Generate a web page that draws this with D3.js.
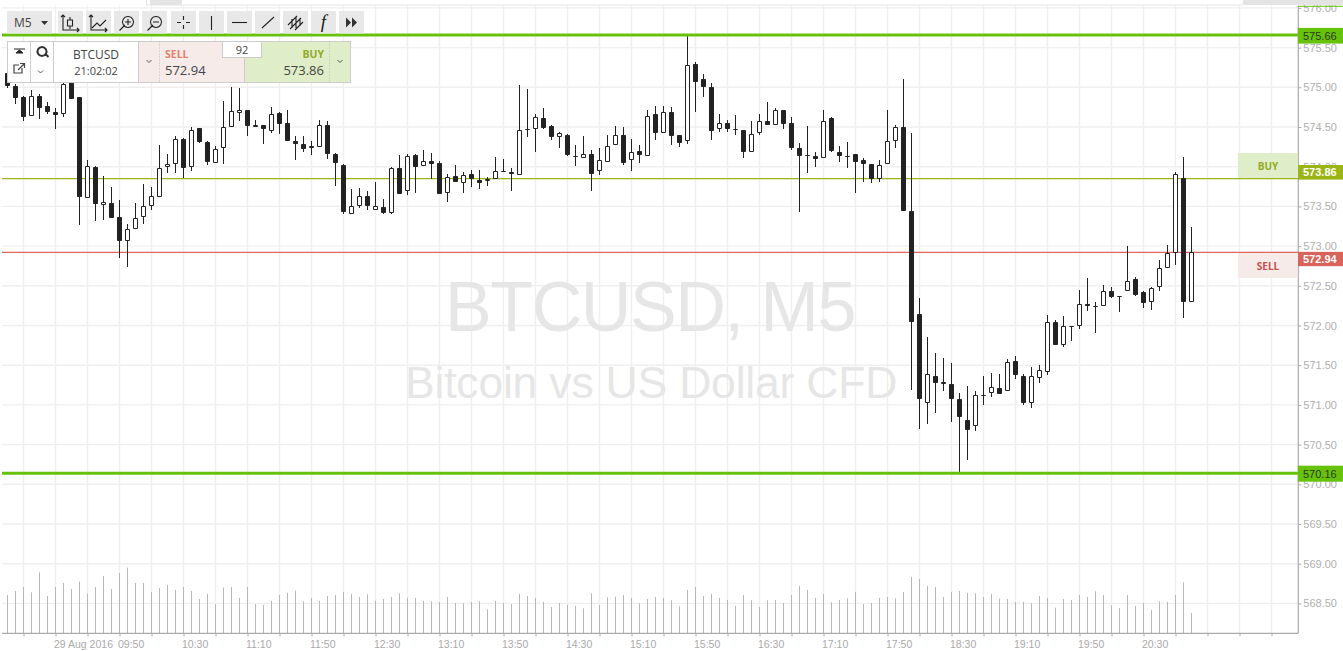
<!DOCTYPE html>
<html><head><meta charset="utf-8">
<script src="https://cdn.jsdelivr.net/npm/d3@7/dist/d3.min.js"></script>
<style>html,body{margin:0;padding:0;background:#fff;overflow:hidden}svg{display:block}</style>
</head><body><svg id="c" width="1343" height="651"></svg>
<script>
const openP=[575.18,575.02,574.88,574.64,574.89,574.76,574.69,574.67,575.09,574.88,
573.61,574.00,573.52,573.54,573.37,573.07,573.22,573.37,573.50,573.62,
573.99,574.03,574.35,573.99,574.49,574.31,574.05,574.24,574.50,574.68,
574.71,574.50,574.52,574.45,574.68,574.55,574.32,574.29,574.23,574.25,
574.53,574.16,574.02,573.41,573.51,573.63,573.46,573.49,573.42,573.98,
573.70,574.15,574.01,574.07,574.05,573.67,573.88,573.80,573.91,573.83,
573.82,573.85,573.94,573.93,573.90,574.47,574.48,574.61,574.51,574.38,
574.40,574.14,574.11,574.16,573.94,574.06,574.27,574.40,574.08,574.20,
574.14,574.66,574.42,574.69,574.40,574.32,575.29,575.10,575.00,574.47,
574.55,574.47,574.46,574.18,574.43,574.57,574.52,574.71,574.55,574.23,
574.15,574.14,574.11,574.61,574.19,574.14,574.16,574.08,574.03,573.84,
574.03,574.32,574.50,573.44,572.14,571.03,571.36,571.26,571.26,571.07,
570.81,570.73,571.13,571.15,571.21,571.17,571.55,571.36,571.02,571.34,
571.42,572.05,571.76,572.00,572.00,572.27,572.24,572.24,572.44,572.37,
572.43,572.58,572.42,572.29,572.48,572.73,572.91,573.86,572.30];
const highP=[575.22,575.04,574.89,574.97,574.91,574.81,574.74,575.05,575.12,574.88,
574.08,574.01,573.88,573.74,573.58,573.28,573.54,573.78,573.74,574.27,
574.16,574.39,574.36,574.50,574.49,574.32,574.26,574.83,575.00,574.99,
574.72,574.59,574.52,574.75,574.69,574.71,574.39,574.39,574.32,574.59,
574.57,574.17,574.03,573.72,573.73,573.69,573.81,573.59,573.99,574.15,
574.16,574.16,574.21,574.17,574.07,573.91,574.02,573.93,573.96,573.96,
573.87,574.12,574.10,573.98,575.03,574.98,574.66,574.74,574.52,574.44,
574.41,574.27,574.39,574.21,574.24,574.40,574.51,574.50,574.35,574.27,
574.71,574.76,574.76,574.75,574.40,575.64,575.32,575.17,575.06,574.66,
574.59,574.65,574.46,574.58,574.66,574.81,574.74,574.72,574.62,574.30,
574.51,574.19,574.71,574.62,574.26,574.31,574.16,574.11,574.04,574.08,
574.71,574.53,575.10,574.42,572.35,571.86,571.65,571.59,571.53,571.15,
571.24,571.17,571.36,571.40,571.39,571.58,571.62,571.39,571.48,571.50,
572.13,572.07,572.12,572.00,572.45,572.60,572.29,572.51,572.48,572.37,
573.00,572.61,572.43,572.49,572.83,573.01,573.93,574.12,573.24];
const lowP=[574.99,574.79,574.58,574.64,574.60,574.67,574.47,574.63,574.85,573.26,
573.61,573.32,573.33,573.35,572.85,572.74,573.21,573.28,573.46,573.62,
573.92,573.92,573.86,573.94,574.30,574.02,574.05,574.03,574.50,574.57,
574.39,574.50,574.29,574.43,574.41,574.32,574.08,574.19,574.15,574.25,
574.10,573.76,573.41,573.40,573.48,573.45,573.45,573.40,573.40,573.65,
573.64,573.67,574.01,573.85,573.65,573.56,573.81,573.67,573.74,573.72,
573.76,573.85,573.93,573.70,573.89,574.38,574.19,574.48,574.33,574.23,
574.13,574.01,574.11,573.69,573.89,574.06,574.27,574.02,573.95,574.05,
574.14,574.33,574.42,574.27,574.25,574.28,574.69,574.88,574.33,574.44,
574.44,574.40,574.11,574.18,574.40,574.53,574.52,574.47,574.21,573.43,
573.92,574.00,574.11,574.19,574.06,573.98,573.67,573.81,573.80,573.81,
574.03,574.24,573.44,571.19,570.70,570.76,570.90,571.17,570.78,570.14,
570.31,570.67,571.00,571.10,571.14,571.17,571.33,571.00,570.96,571.27,
571.38,571.75,571.73,571.80,571.96,572.18,571.90,572.24,572.35,572.17,
572.43,572.37,572.22,572.20,572.44,572.72,572.76,572.09,572.30];
const closeP=[575.02,574.87,574.63,574.89,574.74,574.69,574.65,575.04,574.85,573.62,
574.01,573.53,573.56,573.35,573.06,573.21,573.36,573.50,573.63,573.98,
574.03,574.35,573.98,574.46,574.31,574.06,574.22,574.50,574.70,574.72,
574.51,574.53,574.47,574.66,574.54,574.32,574.29,574.22,574.26,574.53,
574.16,574.05,573.43,573.51,573.63,573.51,573.50,573.42,573.98,573.66,
574.13,574.00,574.07,574.04,573.65,573.87,573.81,573.89,573.84,573.80,
573.85,573.95,573.94,573.91,574.46,574.47,574.62,574.49,574.38,574.42,
574.15,574.13,574.16,573.91,574.09,574.26,574.40,574.05,574.19,574.15,
574.64,574.42,574.69,574.39,574.30,575.28,575.07,575.01,574.45,574.55,
574.48,574.47,574.18,574.41,574.57,574.53,574.71,574.54,574.24,574.14,
574.14,574.10,574.57,574.20,574.14,574.13,574.06,574.03,573.85,574.02,
574.32,574.50,573.44,572.04,571.07,571.39,571.27,571.29,571.07,570.85,
570.69,571.12,571.12,571.22,571.14,571.54,571.38,571.03,571.36,571.44,
572.04,571.76,571.99,571.99,572.27,572.24,572.24,572.44,572.36,572.37,
572.56,572.38,572.28,572.47,572.73,572.91,573.91,572.29,572.92];
const volumes=[115,127,139,123,183,112,139,151,133,155,
119,139,172,133,181,197,151,151,124,136,
145,130,139,127,103,118,88,137,139,106,
139,88,85,97,115,121,128,96,106,97,
112,115,124,118,109,117,97,103,109,120,
107,106,97,96,94,109,91,90,94,96,
72,97,91,88,118,112,106,94,79,91,
86,82,75,120,85,108,110,115,106,90,
103,109,106,99,81,130,139,112,118,106,
100,82,115,99,79,99,100,91,115,142,
130,106,118,93,100,105,124,88,91,106,
109,105,124,169,163,142,139,109,124,127,
121,120,109,118,104,103,94,94,90,112,
106,77,103,100,115,109,126,115,84,76,
115,82,91,70,96,94,115,153,61];
const priceTicks=[568.5,569,569.5,570,570.5,571,571.5,572,572.5,573,573.5,574,574.5,575,575.5,576];
const dateLabel="29 Aug 2016";
const levelValues=[575.66,570.14];
const levelLabels=["575.66","570.16"];
const buyLine=573.85, sellLine=572.92;
const buyText="573.86", sellText="572.94";
const symbol="BTCUSD", period="M5", clock="21:02:02", spread="92";
const waterTitle="BTCUSD, M5", waterSub="Bitcoin vs US Dollar CFD";

const svg=d3.select("#c");
const sans="'Liberation Sans',Arial,sans-serif", open="'Open Sans',sans-serif";
const step=5*60000, t0=Date.UTC(2016,7,29,8,40);
const timeOf=i=>new Date(t0+i*step);
const x=d3.scaleUtc().domain([timeOf(0),timeOf(161)]).range([7.5,1295.5]);
const y=d3.scaleLinear().domain([576,568]).range([7.9,643.1]);
const yV=d3.scaleLinear().domain([0,300]).range([633.3,533.3]);
const plotL=2, plotR=1298.3, plotT=5.5, plotB=633.3;

const candles=openP.map((o,i)=>({i,o,h:highP[i],l:lowP[i],c:closeP[i],v:volumes[i],t:timeOf(i)}));
const gridTimes=d3.range(2,162,4).map(timeOf);
const labelled=d3.range(6,143,8).map(i=>+timeOf(i));

// grid
const grid=svg.append("g").attr("stroke","#efefef").attr("stroke-width",1.4);
grid.selectAll(".gv").data(gridTimes).join("line").attr("x1",d=>x(d)).attr("x2",d=>x(d)).attr("y1",plotT).attr("y2",plotB);
grid.selectAll(".gh").data(priceTicks).join("line").attr("x1",plotL).attr("x2",plotR).attr("y1",d=>y(d)).attr("y2",d=>y(d));

// watermark
svg.append("text").attr("x",445).attr("y",331).attr("font-family",sans).attr("font-size",70).attr("letter-spacing",-1.4).attr("fill","#e6e6e6").text(waterTitle);
svg.append("text").attr("x",405).attr("y",398).attr("font-family",sans).attr("font-size",44.5).attr("letter-spacing",-0.2).attr("fill","#e6e6e6").text(waterSub);

// volume
svg.append("g").attr("stroke","#b8b8b8").attr("stroke-width",1).selectAll("line").data(candles).join("line")
 .attr("x1",d=>x(d.t)).attr("x2",d=>x(d.t)).attr("y1",d=>yV(d.v)).attr("y2",yV(0));

// levels below candles
function hline(v,col,w,x2){svg.append("line").attr("x1",plotL).attr("x2",x2||plotR).attr("y1",y(v)).attr("y2",y(v)).attr("stroke",col).attr("stroke-width",w);}
hline(buyLine,"#9ab515",1.2);
hline(sellLine,"#e0655c",1.2);

// candles
const gc=svg.append("g");
gc.selectAll("line").data(candles).join("line").attr("x1",d=>x(d.t)).attr("x2",d=>x(d.t))
 .attr("y1",d=>Math.round(y(d.h))).attr("y2",d=>Math.round(y(d.l))).attr("stroke","#222").attr("stroke-width",1);
gc.selectAll("path").data(candles).join("path").attr("d",d=>{
  const top=Math.round(y(Math.max(d.o,d.c)))+.5, bot=Math.max(top,Math.round(y(Math.min(d.o,d.c)))-.5), cx=x(d.t);
  return d3.line()([[cx-2,top],[cx+2,top],[cx+2,bot],[cx-2,bot]])+"Z";
}).attr("stroke","#222").attr("stroke-width",1).attr("fill",d=>d.c<d.o?"#222":"#fff");

// heavy support / resistance lines
levelValues.forEach(v=>hline(v,"#66c20a",3));

// axes
const ay=d3.axisRight(y).tickValues(priceTicks).tickFormat(d3.format(".2f")).tickSize(3).tickPadding(2);
const gy=svg.append("g").attr("transform",`translate(${plotR},0)`).call(ay);
gy.select(".domain").remove();
gy.selectAll("line").attr("stroke","#aaa");
gy.selectAll("text").attr("font-family",sans).attr("font-size",11).attr("fill","#b0b0b0");
const ax=d3.axisBottom(x).tickValues(gridTimes).tickSize(3)
 .tickFormat(d=>{ if(!labelled.includes(+d))return ""; return +d===+timeOf(6)?dateLabel:d3.utcFormat("%H:%M")(d);});
const gx=svg.append("g").attr("transform",`translate(0,${plotB})`).call(ax);
gx.select(".domain").remove();
gx.selectAll("line").attr("stroke","#aaa");
gx.selectAll("text").attr("font-family",sans).attr("font-size",10.5).attr("fill","#aaa").attr("text-anchor","start").attr("dx",-2).attr("y",7).attr("dy","0.71em");
svg.append("line").attr("x1",plotL).attr("x2",plotR).attr("y1",plotB).attr("y2",plotB).attr("stroke","#aaa").attr("stroke-width",1.2);
svg.append("line").attr("x1",plotR).attr("x2",plotR).attr("y1",plotT).attr("y2",plotB).attr("stroke","#aaa").attr("stroke-width",1.2);

// top band
svg.append("rect").attr("x",0).attr("y",0).attr("width",1343).attr("height",5).attr("fill","#fff");
svg.append("rect").attr("x",1243).attr("y",0).attr("width",100).attr("height",5).attr("fill","#e4e4e4");
svg.append("rect").attr("x",150).attr("y",0).attr("width",32).attr("height",5).attr("fill","#e4e4e4");
svg.append("line").attr("x1",146.5).attr("x2",1243).attr("y1",5).attr("y2",5).attr("stroke","#e4e4e4");
svg.append("line").attr("x1",146.5).attr("x2",146.5).attr("y1",0).attr("y2",5).attr("stroke","#e4e4e4");
svg.append("line").attr("x1",plotR).attr("x2",1343).attr("y1",6.3).attr("y2",6.3).attr("stroke","#66c20a");

// price tags
function tag(v,t0,t1,fill,col,txt,w){
  const c=y(v);
  svg.append("rect").attr("x",plotR-.5).attr("y",c+t0).attr("width",1343-plotR+.5).attr("height",t1-t0).attr("fill",fill);
  svg.append("text").attr("x",1303).attr("y",c+(t0+t1)/2+4).attr("font-family",sans).attr("font-size",11).attr("font-weight",w).attr("fill",col).text(txt);
}
tag(levelValues[0],-7,8.7,"#66c20a","#2c3a10",levelLabels[0],400);
tag(levelValues[1],-7.5,8.5,"#66c20a","#2c3a10",levelLabels[1],400);
tag(buyLine,-13.6,1,"#9ab515","#fff",buyText,700);
tag(sellLine,-.6,13.7,"#d9635a","#fff",sellText,700);
svg.append("rect").attr("x",1238).attr("y",153).attr("width",60).attr("height",25).attr("fill","#dfeec9");
svg.append("text").attr("x",1268).attr("y",170).attr("text-anchor","middle").attr("font-family",open).attr("font-weight",700).attr("font-size",10).attr("fill","#93ab1c").text("BUY");
svg.append("rect").attr("x",1238).attr("y",253).attr("width",60).attr("height",25).attr("fill","#f7ebe9");
svg.append("text").attr("x",1268).attr("y",270).attr("text-anchor","middle").attr("font-family",open).attr("font-weight",700).attr("font-size",10).attr("fill","#c9504a").text("SELL");

// toolbar
const tb=svg.append("g");
const btnLefts=[58,86,114,142,171,199,227,255,283,311,339];
tb.append("rect").attr("x",7).attr("y",11).attr("width",45).attr("height",22.5).attr("fill","#e8e8e8");
tb.selectAll(".b").data(btnLefts).join("rect").attr("x",d=>d).attr("y",11).attr("width",25).attr("height",22.5).attr("fill","#e8e8e8");
tb.append("text").attr("x",14).attr("y",27).attr("font-family",open).attr("font-size",12).attr("fill","#444").text(period);
tb.append("path").attr("d","M41 21h7l-3.500 4z").attr("fill","#333");
const icons=[
 "M63 15v15h16M61 17l2-2 2 2M77 28l2 2-2 2M70 17v3M70 26v3M67.500 20h5v6h-5z",
 "M91 15v15h16M89 17l2-2 2 2M105 28l2 2-2 2M92 28l5-5 3 3 6-6",
 "M119.500 30.500l5.500-5.500M128 16.500a5.500 5.500 0 1 0 .01 0M125 22h6M128 19v6",
 "M147.500 30.500l5.500-5.500M156 16.500a5.500 5.500 0 1 0 .01 0M153 22h6",
 "M177 22.500h4M186 22.500h4M183.500 16v4M183.500 25v4",
 "M211.500 16v14",
 "M232 22.500h15",
 "M262 28l12-11",
 "M288 25l9-9M290 29l11-11M295 30l8-8M292 19v9M296 17v11M300 18v8",
 "",""];
tb.selectAll(".ic").data(icons).join("path").attr("d",d=>d).attr("fill","none").attr("stroke","#222").attr("stroke-width",1.1);
tb.append("text").attr("x",323.500).attr("y",28).attr("text-anchor","middle").attr("font-family","'Liberation Serif',serif").attr("font-style","italic").attr("font-size",19).attr("fill","#222").text("f");
tb.append("path").attr("d","M346 17.500l5 5-5 5zM352 17.500l5 5-5 5z").attr("fill","#333");

// order panel
const p=svg.append("g");
p.append("rect").attr("x",7.5).attr("y",41.5).attr("width",343).attr("height",41).attr("fill","#fff");
p.append("rect").attr("x",138.5).attr("y",41.5).attr("width",106).attr("height",41).attr("fill","#f7ebe9");
p.append("rect").attr("x",244.5).attr("y",41.5).attr("width",106).attr("height",41).attr("fill","#dfeec9");
p.append("rect").attr("x",7.5).attr("y",41.5).attr("width",343).attr("height",41).attr("fill","none").attr("stroke","#ccc");
[30.5,53.5,138.5,244.5].forEach(v=>p.append("line").attr("x1",v).attr("x2",v).attr("y1",41.5).attr("y2",82.5).attr("stroke","#ccc"));
[159.5,329.5].forEach(v=>p.append("line").attr("x1",v).attr("x2",v).attr("y1",41.5).attr("y2",82.5).attr("stroke","#bbb").attr("stroke-dasharray","1 2"));
p.append("rect").attr("x",222.5).attr("y",41.5).attr("width",39).attr("height",16).attr("fill","#fff").attr("stroke","#ccc");
p.append("text").attr("x",242).attr("y",54).attr("text-anchor","middle").attr("font-family",open).attr("font-size",11).attr("fill","#444").text(spread);
p.append("text").attr("x",96).attr("y",59).attr("text-anchor","middle").attr("font-family",open).attr("font-size",12).attr("fill","#444").text(symbol);
p.append("text").attr("x",96).attr("y",75).attr("text-anchor","middle").attr("font-family",open).attr("font-size",11).attr("fill","#444").text(clock);
p.append("text").attr("x",165).attr("y",58).attr("font-family",open).attr("font-weight",700).attr("font-size",10.500).attr("fill","#e0806e").text("SELL");
p.append("text").attr("x",165).attr("y",75).attr("font-family",open).attr("font-size",13).attr("fill","#444").text(sellText);
p.append("text").attr("x",324).attr("y",58).attr("text-anchor","end").attr("font-family",open).attr("font-weight",700).attr("font-size",10.500).attr("fill","#93ab1c").text("BUY");
p.append("text").attr("x",324).attr("y",75).attr("text-anchor","end").attr("font-family",open).attr("font-size",13).attr("fill","#444").text(buyText);
p.append("path").attr("d","M146.500 60l2.500 2.500 2.500-2.500M337.500 60l2.500 2.500 2.500-2.500M38 70.500l2.500 2.500 2.500-2.500").attr("fill","none").attr("stroke","#555");
p.append("path").attr("d","M14 49h11M16 53l3.500-3 3.500 3z").attr("stroke","#222").attr("fill","#222");
p.append("path").attr("d","M22 68v5h-8v-8h5M18 70l6-6M20 63.500h4.500v4.500").attr("stroke","#444").attr("fill","none").attr("stroke-width",1.2);
p.append("path").attr("d","M45 53.500l3.500 3.500M42 47a4.500 4.500 0 1 0 .01 0").attr("stroke","#333").attr("fill","none").attr("stroke-width",2);
</script></body></html>
